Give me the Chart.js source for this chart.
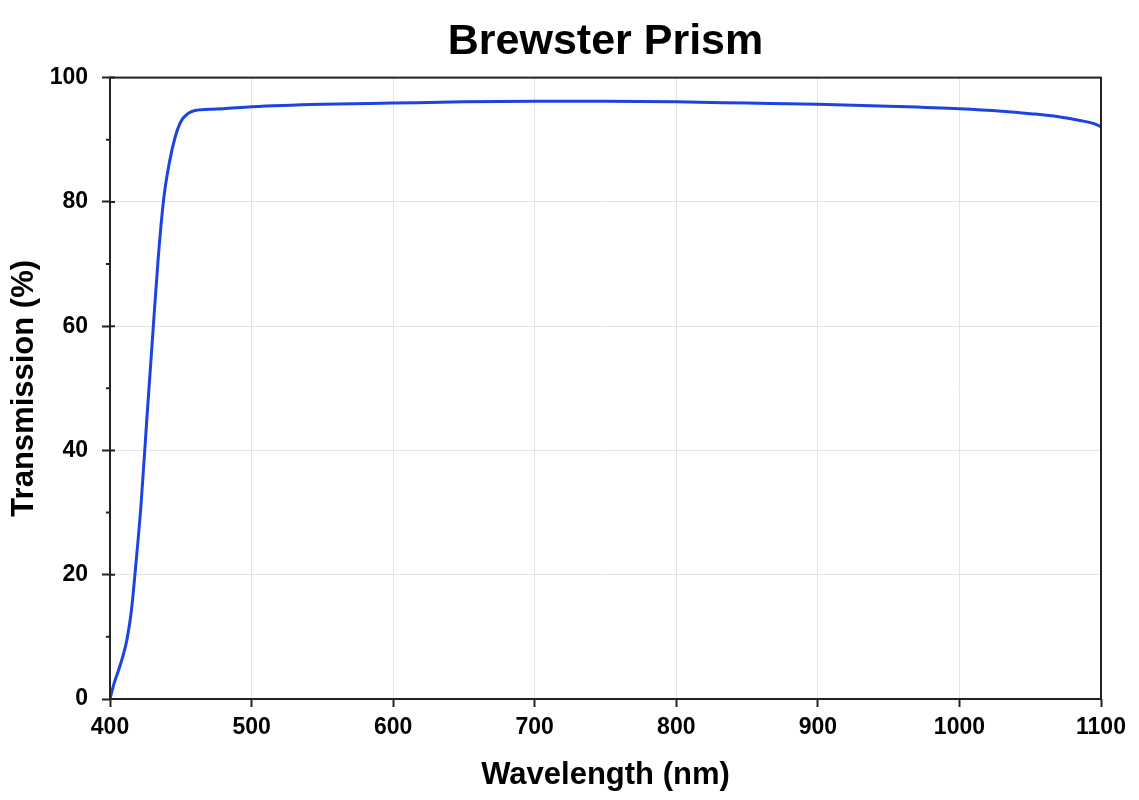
<!DOCTYPE html>
<html>
<head>
<meta charset="utf-8">
<title>Brewster Prism</title>
<script src="https://cdn.jsdelivr.net/npm/chart.js@4"></script>
<style>
  html, body { margin: 0; padding: 0; background: #fff; }
  #wrap { width: 1139px; height: 800px; position: relative; }
</style>
</head>
<body>
<div id="wrap"><canvas id="prismChart"></canvas></div>
<script>
// wavelength (nm) and transmission (%)
const wavelengths = [400, 403, 406, 409, 412, 415, 418, 422, 426, 430, 434, 438, 442, 446, 450, 455, 460, 470, 480,
    500, 550, 600, 650, 700, 750, 800, 850, 900, 950, 1000, 1030, 1050, 1070, 1085, 1095, 1100];
const transmission = [0, 2.6, 4.6, 6.8, 9.6, 14.0, 21.0, 31.5, 45.0, 58, 70.8, 80.6, 86.4, 90.4, 92.9, 94.2, 94.7, 94.9, 95.0,
    95.3, 95.7, 95.9, 96.1, 96.2, 96.2, 96.1, 95.9, 95.7, 95.4, 95.0, 94.6, 94.2, 93.7, 93.1, 92.6, 92.1];
const xTicks = [400, 500, 600, 700, 800, 900, 1000, 1100];
const yTicks = [0, 20, 40, 60, 80, 100];
const yMinorTicks = [10, 30, 50, 70, 90];

const points = wavelengths.map((w, i) => ({ x: w, y: transmission[i] }));

// frame around the plot, minor ticks, and title centred on the plot area
const frame = {
    id: 'frame',
    afterLayout(chart) {
        const t = chart.titleBlock;
        if (t) { t.left = chart.chartArea.left; t.right = chart.chartArea.right; }
    },
    afterDraw(chart) {
        const { ctx, chartArea: a, scales } = chart;
        ctx.save();
        ctx.strokeStyle = '#222';
        ctx.lineWidth = 2;
        ctx.strokeRect(a.left, a.top, a.right - a.left, a.bottom - a.top);
        ctx.beginPath();
        yMinorTicks.forEach(v => {
            const y = scales.y.getPixelForValue(v);
            ctx.moveTo(a.left - 4, y); ctx.lineTo(a.left, y);
        });
        yTicks.forEach(v => {
            const y = scales.y.getPixelForValue(v);
            ctx.moveTo(a.left, y); ctx.lineTo(a.left + 5, y);
        });
        ctx.stroke();
        ctx.restore();
    }
};

const font = 'Liberation Sans, Arial, sans-serif';

new Chart(document.getElementById('prismChart'), {
    type: 'line',
    data: {
        datasets: [{
            label: 'Transmission',
            data: points,
            borderColor: '#1d43e0',
            borderWidth: 3,
            pointRadius: 0,
            cubicInterpolationMode: 'monotone',
            fill: false
        }]
    },
    options: {
        responsive: true,
        maintainAspectRatio: false,
        animation: false,
        layout: { padding: { left: 0, right: 38, top: 0, bottom: 0 } },
        plugins: {
            legend: { display: false },
            tooltip: { enabled: false },
            title: {
                display: true,
                text: 'Brewster Prism',
                color: '#000',
                font: { family: font, size: 43, weight: 'bold' },
                padding: { top: 16, bottom: 10 }
            }
        },
        scales: {
            x: {
                type: 'linear',
                min: 400, max: 1100,
                afterBuildTicks: s => { s.ticks = xTicks.map(v => ({ value: v })); },
                afterFit: s => { s.height = 101; },
                grid: { color: '#e4e4e4', lineWidth: 1, tickLength: 8, tickColor: '#222', tickWidth: 2 },
                border: { display: false },
                ticks: {
                    color: '#000', padding: 7, maxRotation: 0,
                    callback: v => String(v),
                    font: { family: font, size: 23, weight: 'bold' }
                },
                title: {
                    display: true, text: 'Wavelength (nm)', color: '#000',
                    font: { family: font, size: 31, weight: 'bold' },
                    padding: { top: 0, bottom: 6 }
                }
            },
            y: {
                min: 0, max: 100,
                afterBuildTicks: s => { s.ticks = yTicks.map(v => ({ value: v })); },
                afterFit: s => { s.width = 110; },
                grid: { color: '#e4e4e4', lineWidth: 1, tickLength: 8, tickColor: '#222', tickWidth: 2 },
                border: { display: false },
                ticks: {
                    color: '#000', padding: 14,
                    callback: v => String(v),
                    font: { family: font, size: 23, weight: 'bold' }
                },
                title: {
                    display: true, text: 'Transmission (%)', color: '#000',
                    font: { family: font, size: 31, weight: 'bold' },
                    padding: { top: 6, bottom: 0 }
                }
            }
        }
    },
    plugins: [frame]
});
</script>
</body>
</html>
